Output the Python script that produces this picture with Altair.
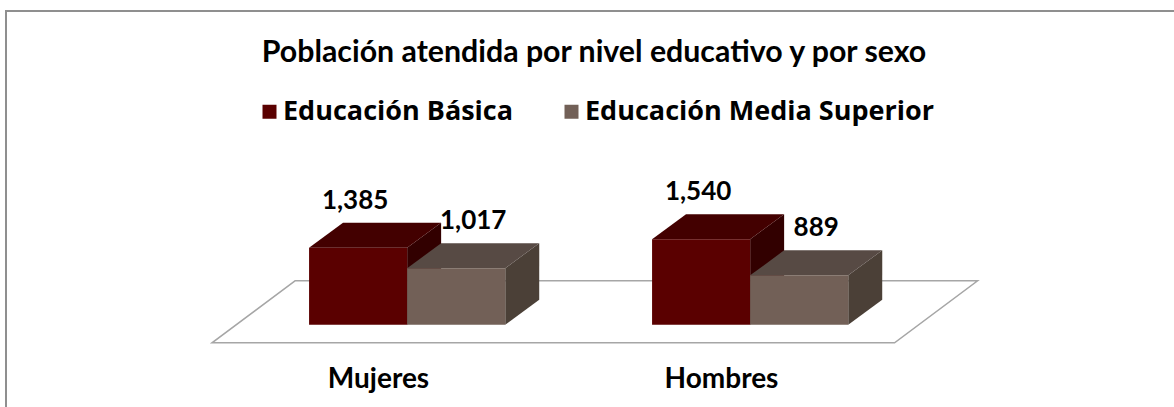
import altair as alt
import pandas as pd

# ---------------- data ----------------
title_text = "Población atendida por nivel educativo y por sexo"
categories = ["Mujeres", "Hombres"]
series = ["Educación Básica", "Educación Media Superior"]
basica = [1385, 1540]
media_superior = [1017, 889]

front_colors = ["#5a0000", "#726057"]
top_colors = ["#430000", "#574a44"]
side_colors = ["#320000", "#4b4037"]
label_dx = [-3, 17]   # horizontal nudge of the value labels per series (px)

# ---------------- 3D geometry (scale units) ----------------
BAR_W = 0.286        # width of one bar in category units
BAR_LEFT = 0.283     # left edge of first bar inside its category band
DEPTH_X = 0.099      # depth shift in category units
DEPTH_Y = 450        # depth shift in value units
FLOOR_FRONT = -325
FLOOR_BACK = 790
FLOOR_SHIFT = 0.242

values = [basica, media_superior]
front_rows, top_rows, side_rows = [], [], []
for si, s in enumerate(series):
    for ci, c in enumerate(categories):
        v = values[si][ci]
        x0 = ci + BAR_LEFT + si * BAR_W
        x1 = x0 + BAR_W
        bar = f"{c}|{s}"
        front_rows.append(dict(series=s, category=c, value=v, x0=x0, x1=x1,
                               base=0, xc=(x0 + x1) / 2))
        top_rows.append(dict(series=s, bar=bar, ty=v, tx0=x0, tx1=x1, col=top_colors[si]))
        top_rows.append(dict(series=s, bar=bar, ty=v + DEPTH_Y, tx0=x0 + DEPTH_X,
                             tx1=x1 + DEPTH_X, col=top_colors[si]))
        side_rows.append(dict(series=s, bar=bar, sx=x1, sy0=0, sy1=v, col=side_colors[si]))
        side_rows.append(dict(series=s, bar=bar, sx=x1 + DEPTH_X, sy0=DEPTH_Y,
                              sy1=v + DEPTH_Y, col=side_colors[si]))

front_df = pd.DataFrame(front_rows)
top_df = pd.DataFrame(top_rows)
side_df = pd.DataFrame(side_rows)
n = len(categories)
floor_df = pd.DataFrame({
    "fy": [FLOOR_FRONT, FLOOR_BACK],
    "fx0": [0, FLOOR_SHIFT],
    "fx1": [n - 0.01, n - 0.01 + FLOOR_SHIFT],
})
cat_df = pd.DataFrame({"category": categories,
                       "cx": [i + 0.5 for i in range(n)],
                       "cy": [FLOOR_FRONT] * n})

xs = alt.Scale(domain=[0, n], nice=False, zero=False)
ys = alt.Scale(domain=[-400, 3000], nice=False, zero=False)

floor = alt.Chart(floor_df).mark_area(
    orient="horizontal", fill="white", stroke="#a6a6a6", strokeWidth=1.5
).encode(
    y=alt.Y("fy:Q", scale=ys, axis=None),
    x=alt.X("fx0:Q", scale=xs, axis=None, stack=None),
    x2="fx1:Q",
)

legend = alt.Legend(
    title=None, orient="none", legendX=44, legendY=-60, direction="horizontal",
    symbolType="square", symbolSize=196, symbolStrokeWidth=0,
    labelFont="Open Sans", labelFontSize=27, labelFontWeight="bold",
    labelColor="black", labelOffset=0, columnPadding=44, labelLimit=600,
)


def series_layers(s):
    side = alt.Chart(side_df).transform_filter(alt.datum.series == s).mark_area(
        orient="vertical"
    ).encode(
        x=alt.X("sx:Q", scale=xs, axis=None),
        y=alt.Y("sy0:Q", scale=ys, axis=None, stack=None),
        y2="sy1:Q",
        detail="bar:N",
        color=alt.Color("col:N", scale=None),
    )
    top = alt.Chart(top_df).transform_filter(alt.datum.series == s).mark_area(
        orient="horizontal"
    ).encode(
        y=alt.Y("ty:Q", scale=ys, axis=None),
        x=alt.X("tx0:Q", scale=xs, axis=None, stack=None),
        x2="tx1:Q",
        detail="bar:N",
        color=alt.Color("col:N", scale=None),
    )
    front = alt.Chart(front_df).transform_filter(alt.datum.series == s).mark_rect().encode(
        x=alt.X("x0:Q", scale=xs, axis=None),
        x2="x1:Q",
        y=alt.Y("base:Q", scale=ys, axis=None),
        y2="value:Q",
        color=alt.Color("series:N",
                        scale=alt.Scale(domain=series, range=front_colors),
                        legend=legend),
    )
    return [side, top, front]


def label_layer(si, s):
    return alt.Chart(front_df).transform_filter(alt.datum.series == s).mark_text(
        font="Lato", fontSize=26, fontWeight="bold", dy=-47, dx=label_dx[si],
        baseline="middle", align="center", color="black"
    ).encode(
        x=alt.X("xc:Q", scale=xs, axis=None),
        y=alt.Y("value:Q", scale=ys, axis=None),
        text=alt.Text("value:Q", format=","),
    )


cat_labels = alt.Chart(cat_df).mark_text(
    font="Lato", fontSize=28, fontWeight="bold", dy=45, dx=-5,
    baseline="alphabetic", align="center", color="black"
).encode(
    x=alt.X("cx:Q", scale=xs, axis=None),
    y=alt.Y("cy:Q", scale=ys, axis=None),
    text="category:N",
)

one = pd.DataFrame({"k": [0]})
title = alt.Chart(one).mark_text(
    text=title_text, font="Lato", fontSize=30.3, fontWeight="bold",
    baseline="alphabetic", align="center", color="black"
).encode(x=alt.value(382), y=alt.value(-96))

frame_top = alt.Chart(one).mark_rule(color="#8f8f8f", strokeWidth=2).encode(
    x=alt.value(-206), x2=alt.value(962), y=alt.value(-147))
frame_left = alt.Chart(one).mark_rule(color="#8f8f8f", strokeWidth=2).encode(
    x=alt.value(-206), y=alt.value(-148), y2=alt.value(249))

layers = [frame_top, frame_left, title, floor]
for s in series:
    layers += series_layers(s)
layers += [label_layer(si, s) for si, s in enumerate(series)]
layers += [cat_labels]

chart = alt.layer(*layers).properties(
    width=686, height=189,
    padding={"left": 212, "top": 158, "right": 276, "bottom": 60},
    autosize="none",
    background="white",
).configure_view(stroke=None)

chart.save("out.html", embed_options={"renderer": "svg", "actions": False})
